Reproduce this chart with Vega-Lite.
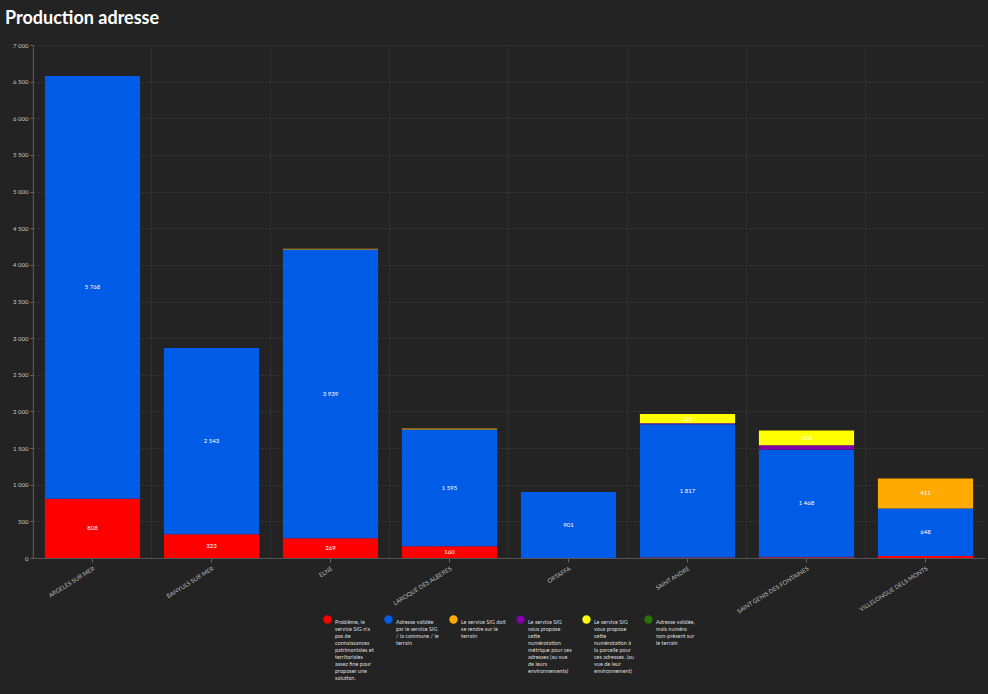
{
  "$schema": "https://vega.github.io/schema/vega-lite/v6.json",
  "autosize": {"type": "fit", "contains": "padding"},
  "width": 988,
  "height": 694,
  "padding": {"left": 5, "top": 10, "right": 3, "bottom": 13},
  "background": "#232323",
  "title": {
    "text": "Production adresse",
    "anchor": "start",
    "frame": "bounds",
    "color": "#ffffff",
    "fontSize": 18,
    "fontWeight": "bold",
    "font": "Lato",
    "offset": 14
  },
  "data": {
    "values": [
      {"commune": "ARGELES SUR MER", "categorie": "Problème, le service SIG n'a pas de connaissances patrimoniales et territoriales assez fine pour proposer une solution.", "k": 1, "valeur": 808},
      {"commune": "ARGELES SUR MER", "categorie": "Adresse validée par le service SIG / la commune / le terrain", "k": 2, "valeur": 5768},
      {"commune": "BANYULS SUR MER", "categorie": "Problème, le service SIG n'a pas de connaissances patrimoniales et territoriales assez fine pour proposer une solution.", "k": 1, "valeur": 323},
      {"commune": "BANYULS SUR MER", "categorie": "Adresse validée par le service SIG / la commune / le terrain", "k": 2, "valeur": 2543},
      {"commune": "ELNE", "categorie": "Problème, le service SIG n'a pas de connaissances patrimoniales et territoriales assez fine pour proposer une solution.", "k": 1, "valeur": 269},
      {"commune": "ELNE", "categorie": "Adresse validée par le service SIG / la commune / le terrain", "k": 2, "valeur": 3939},
      {"commune": "ELNE", "categorie": "Le service SIG doit se rendre sur le terrain", "k": 3, "valeur": 12},
      {"commune": "LAROQUE DES ALBERES", "categorie": "Problème, le service SIG n'a pas de connaissances patrimoniales et territoriales assez fine pour proposer une solution.", "k": 1, "valeur": 160},
      {"commune": "LAROQUE DES ALBERES", "categorie": "Adresse validée par le service SIG / la commune / le terrain", "k": 2, "valeur": 1595},
      {"commune": "LAROQUE DES ALBERES", "categorie": "Le service SIG doit se rendre sur le terrain", "k": 3, "valeur": 12},
      {"commune": "ORTAFFA", "categorie": "Adresse validée par le service SIG / la commune / le terrain", "k": 2, "valeur": 901},
      {"commune": "SAINT ANDRE", "categorie": "Problème, le service SIG n'a pas de connaissances patrimoniales et territoriales assez fine pour proposer une solution.", "k": 1, "valeur": 8},
      {"commune": "SAINT ANDRE", "categorie": "Adresse validée par le service SIG / la commune / le terrain", "k": 2, "valeur": 1817},
      {"commune": "SAINT ANDRE", "categorie": "Le service SIG vous propose cette numérotation métrique pour ces adresses (au vue de leurs environnements)", "k": 4, "valeur": 15},
      {"commune": "SAINT ANDRE", "categorie": "Le service SIG vous propose cette numérotation à la parcelle pour ces adresses. (au vue de leur environnement)", "k": 5, "valeur": 126},
      {"commune": "SAINT GENIS DES FONTAINES", "categorie": "Problème, le service SIG n'a pas de connaissances patrimoniales et territoriales assez fine pour proposer une solution.", "k": 1, "valeur": 10},
      {"commune": "SAINT GENIS DES FONTAINES", "categorie": "Adresse validée par le service SIG / la commune / le terrain", "k": 2, "valeur": 1468},
      {"commune": "SAINT GENIS DES FONTAINES", "categorie": "Le service SIG vous propose cette numérotation métrique pour ces adresses (au vue de leurs environnements)", "k": 4, "valeur": 60},
      {"commune": "SAINT GENIS DES FONTAINES", "categorie": "Le service SIG vous propose cette numérotation à la parcelle pour ces adresses. (au vue de leur environnement)", "k": 5, "valeur": 203},
      {"commune": "VILLELONGUE DELS MONTS", "categorie": "Problème, le service SIG n'a pas de connaissances patrimoniales et territoriales assez fine pour proposer une solution.", "k": 1, "valeur": 27},
      {"commune": "VILLELONGUE DELS MONTS", "categorie": "Adresse validée par le service SIG / la commune / le terrain", "k": 2, "valeur": 648},
      {"commune": "VILLELONGUE DELS MONTS", "categorie": "Le service SIG doit se rendre sur le terrain", "k": 3, "valeur": 411}
    ]
  },
  "transform": [
    {"stack": "valeur", "groupby": ["commune"], "sort": [{"field": "k", "order": "ascending"}], "as": ["y0", "y1"]}
  ],
  "layer": [
    {
      "mark": {"type": "bar"},
      "encoding": {
        "x": {
          "field": "commune",
          "type": "nominal",
          "sort": null,
          "scale": {"paddingInner": 0.2, "paddingOuter": 0.1},
          "axis": {
            "orient": "bottom",
            "title": null,
            "labelAngle": -32,
            "labelFontSize": 6,
            "labelColor": "#bbbbbb",
            "labelFont": "Lato",
            "tickColor": "#666666",
            "tickSize": 4,
            "domainColor": "#555555",
            "grid": false,
            "labelPadding": 3
          }
        },
        "y": {
          "field": "y0",
          "type": "quantitative",
          "scale": {"domain": [0, 7000], "nice": false},
          "axis": {
            "title": null,
            "values": [0, 500, 1000, 1500, 2000, 2500, 3000, 3500, 4000, 4500, 5000, 5500, 6000, 6500, 7000],
            "format": ",d",
            "labelFontSize": 6,
            "labelColor": "#c8c8c8",
            "labelFont": "Lato",
            "tickColor": "#666666",
            "tickSize": 3,
            "domainColor": "#555555",
            "grid": true,
            "gridColor": "#3a3a3a",
            "gridDash": [2, 2],
            "minExtent": 28
          }
        },
        "y2": {"field": "y1"},
        "color": {
          "field": "categorie",
          "type": "nominal",
          "scale": {
            "domain": [
              "Problème, le service SIG n'a pas de connaissances patrimoniales et territoriales assez fine pour proposer une solution.",
              "Adresse validée par le service SIG / la commune / le terrain",
              "Le service SIG doit se rendre sur le terrain",
              "Le service SIG vous propose cette numérotation métrique pour ces adresses (au vue de leurs environnements)",
              "Le service SIG vous propose cette numérotation à la parcelle pour ces adresses. (au vue de leur environnement)",
              "Adresse validée, mais numéro non-présent sur le terrain"
            ],
            "range": ["#ff0000", "#005ce6", "#ffaa00", "#8400a8", "#ffff00", "#267300"]
          },
          "legend": {
            "title": null,
            "orient": "bottom",
            "direction": "horizontal",
            "columns": 6,
            "symbolType": "circle",
            "symbolSize": 70,
            "symbolStrokeWidth": 0,
            "labelFontSize": 5.5,
            "labelColor": "#dddddd",
            "labelFont": "Lato",
            "labelBaseline": "top",
            "labelOffset": 3,
            "labelLimit": 0,
            "columnPadding": 10,
            "offset": 0,
            "encode": {"labels": {"update": {"lineHeight": {"value": 7}}}},
            "labelExpr": "[['Problème, le','service SIG n\\'a','pas de','connaissances','patrimoniales et','territoriales','assez fine pour','proposer une','solution.'],['Adresse validée','par le service SIG','/ la commune / le','terrain',' ',' ',' ',' ',' '],['Le service SIG doit','se rendre sur le','terrain',' ',' ',' ',' ',' ',' '],['Le service SIG','vous propose','cette','numérotation','métrique pour ces','adresses (au vue','de leurs','environnements)',' '],['Le service SIG','vous propose','cette','numérotation à','la parcelle pour','ces adresses. (au','vue de leur','environnement)',' '],['Adresse validée,','mais numéro','non-présent sur','le terrain',' ',' ',' ',' ',' ']][indexof(['Problème, le service SIG n\\'a pas de connaissances patrimoniales et territoriales assez fine pour proposer une solution.','Adresse validée par le service SIG / la commune / le terrain','Le service SIG doit se rendre sur le terrain','Le service SIG vous propose cette numérotation métrique pour ces adresses (au vue de leurs environnements)','Le service SIG vous propose cette numérotation à la parcelle pour ces adresses. (au vue de leur environnement)','Adresse validée, mais numéro non-présent sur le terrain'], datum.label)]"
          }
        }
      }
    },
    {
      "transform": [
        {"filter": {"field": "valeur", "gte": 100}},
        {"fold": ["y0", "y1"], "as": ["bord", "pos"]}
      ],
      "mark": {"type": "text", "color": "#ffffff", "fontSize": 6, "font": "Lato", "baseline": "middle"},
      "encoding": {
        "x": {
          "field": "commune",
          "type": "nominal",
          "sort": null,
          "axis": {
            "orient": "top",
            "title": null,
            "labels": false,
            "ticks": false,
            "domain": false,
            "grid": true,
            "gridColor": "#3a3a3a",
            "gridDash": [2, 2],
            "bandPosition": -0.126
          }
        },
        "y": {"field": "pos", "type": "quantitative", "aggregate": "mean", "axis": null},
        "detail": {"field": "categorie"},
        "text": {"field": "valeur", "aggregate": "max", "format": ",d"}
      }
    }
  ],
  "resolve": {"axis": {"x": "independent", "y": "independent"}},
  "config": {
    "locale": {"number": {"decimal": ",", "thousands": " ", "grouping": [3], "currency": ["", " €"]}},
    "view": {"stroke": null},
    "legend": {"layout": {"bottom": {"anchor": "middle"}}}
  }
}
